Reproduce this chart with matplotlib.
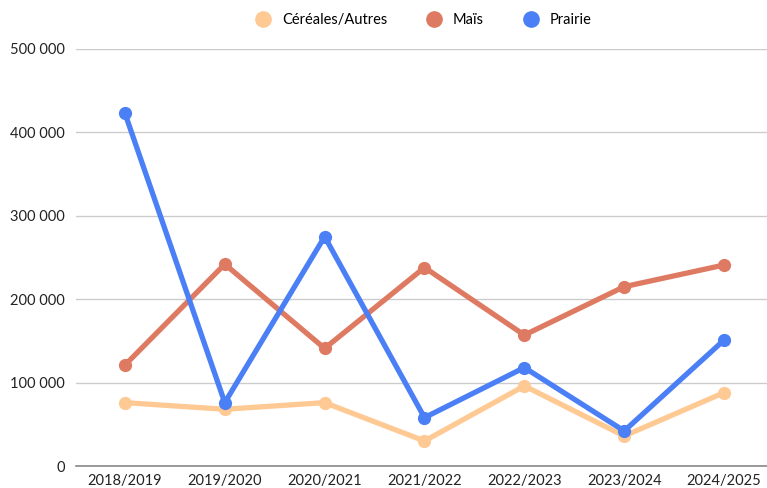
import matplotlib
matplotlib.use("Agg")
import matplotlib.pyplot as plt
from matplotlib.ticker import FuncFormatter
from matplotlib.lines import Line2D

seasons = ["2018/2019", "2019/2020", "2020/2021", "2021/2022",
           "2022/2023", "2023/2024", "2024/2025"]
cereales = [76000, 68000, 76000, 30000, 96000, 36000, 88000]
mais = [121000, 242000, 141000, 238000, 157000, 215000, 241000]
prairie = [423000, 76000, 275000, 58000, 118000, 42000, 151000]

series = [
    ("Céréales/Autres", cereales, "#FFC994"),
    ("Maïs", mais, "#DF7A62"),
    ("Prairie", prairie, "#4A7FF5"),
]

plt.rcParams["font.family"] = ["Lato", "DejaVu Sans"]

fig = plt.figure(figsize=(7.67, 4.88), dpi=100)
ax = fig.add_axes([76 / 767, 22 / 488, 691 / 767, 417 / 488])

x = list(range(len(seasons)))
for label, vals, color in series:
    ax.plot(x, vals, color=color, linewidth=3.8, marker="o", markersize=8.5,
            solid_capstyle="round", solid_joinstyle="round", label=label,
            clip_on=False)

ax.set_xlim(-0.49, len(seasons) - 1 + 0.43)
ax.set_ylim(0, 500000)
ax.set_yticks(range(0, 500001, 100000))
ax.yaxis.set_major_formatter(FuncFormatter(lambda v, p: f"{int(v):,}".replace(",", " ")))
ax.set_xticks(x)
ax.set_xticklabels(seasons)

ax.grid(axis="y", color="#CCCCCC", linewidth=1)
ax.set_axisbelow(True)
for side in ["top", "right", "left"]:
    ax.spines[side].set_visible(False)
ax.spines["bottom"].set_color("#888888")
ax.spines["bottom"].set_linewidth(1.2)
ax.tick_params(axis="both", length=0, labelsize=10.5, colors="#222222")
ax.tick_params(axis="y", pad=8)
ax.tick_params(axis="x", pad=6)

handles = [Line2D([], [], linestyle="none", marker="o", markersize=11,
                  color=c, label=l) for l, _, c in series]
fig.legend(handles=handles, loc="center", bbox_to_anchor=(420 / 767, 1 - 20 / 488),
           ncol=3, frameon=False, fontsize=10.5, handletextpad=0.3,
           columnspacing=2.2)

fig.savefig("out.png", dpi=100)
